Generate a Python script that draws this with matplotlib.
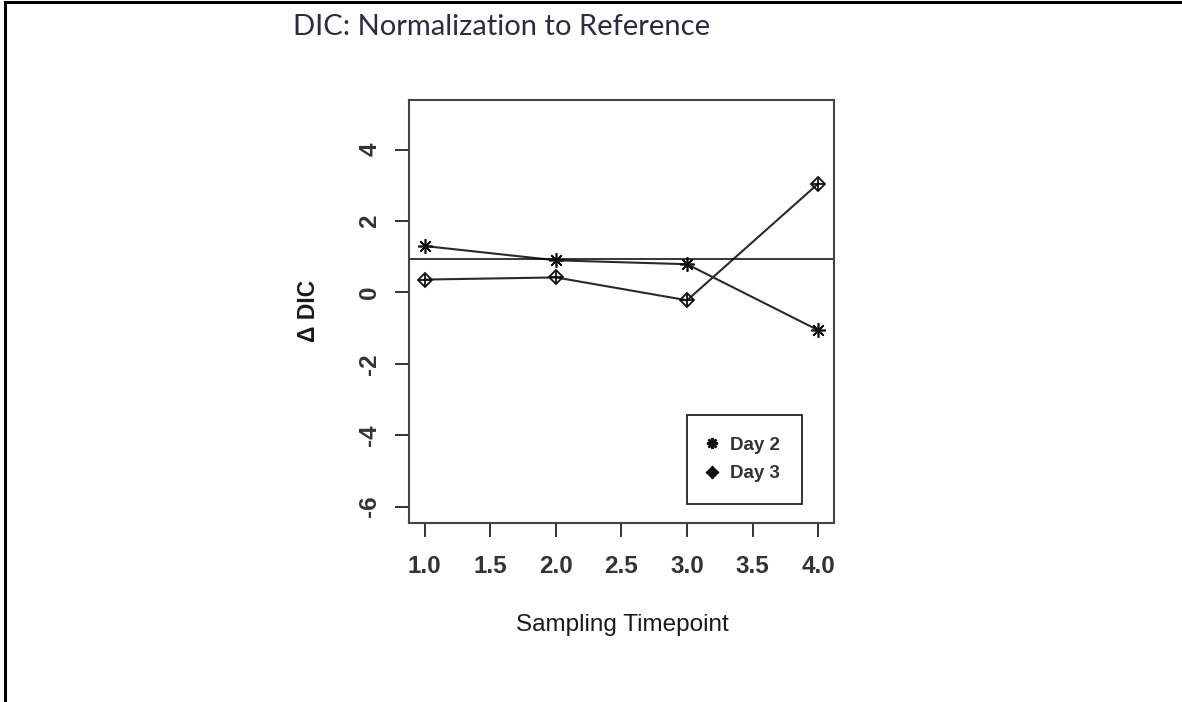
import matplotlib
matplotlib.use('Agg')
import matplotlib.pyplot as plt
from matplotlib.lines import Line2D
from matplotlib.legend_handler import HandlerTuple

timepoints = [1.0, 2.0, 3.0, 4.0]
day2 = [1.30, 0.90, 0.79, -1.06]
day3 = [0.36, 0.42, -0.22, 3.05]
ref_line = 0.95
xticks = [1.0, 1.5, 2.0, 2.5, 3.0, 3.5, 4.0]
yticks = [-6, -4, -2, 0, 2, 4]

plt.rcParams['font.family'] = ['Liberation Sans', 'DejaVu Sans']

fig = plt.figure(figsize=(11.82, 7.02), dpi=100)
ax = fig.add_axes([0.346, 0.255, 0.3596, 0.6025])

line_col = '#2a2a2a'
mk_col = '#111111'
# R pch 8 style asterisk
ax.plot(timepoints, day2, color=line_col, lw=1.5, marker=(8, 2, 0),
        markersize=10.5, markeredgewidth=1.2, markeredgecolor=mk_col)
# R pch 9: diamond with a plus inside
ax.plot(timepoints, day3, color=line_col, lw=1.5, marker='D', markersize=7.2,
        markerfacecolor='none', markeredgewidth=1.3, markeredgecolor=mk_col)
ax.plot(timepoints, day3, linestyle='none', marker='+', markersize=10.2,
        markeredgewidth=1.3, markeredgecolor=mk_col)
ax.axhline(ref_line, color='black', lw=1.1)

ax.set_xlim(0.88, 4.12)
ax.set_ylim(-6.46, 5.39)
ax.set_xticks(xticks)
ax.set_xticklabels(['%.1f' % t for t in xticks])
ax.set_yticks(yticks)
ax.set_yticklabels([str(t) for t in yticks])

for s in ax.spines.values():
    s.set_color('#444444')
    s.set_linewidth(1.5)

ax.tick_params(axis='both', direction='out', length=10, width=1.4, color='#333333',
               labelsize=17.5, labelcolor='#333333')
ax.tick_params(axis='x', pad=13)
ax.tick_params(axis='y', pad=10, labelrotation=90)
for lab in ax.get_xticklabels() + ax.get_yticklabels():
    lab.set_fontweight('bold')
for lab in ax.get_yticklabels():
    lab.set_va('center')

ax.set_xlabel('Sampling Timepoint', fontsize=17.5, color='#1a1a1a', va='center')
ax.set_ylabel('Δ DIC', fontsize=16.5, color='#1a1a1a', va='center', ha='center',
              fontweight='bold')
ax.xaxis.set_label_coords(0.501, -0.241)
ax.yaxis.set_label_coords(-0.236, 0.501)

h2 = Line2D([], [], linestyle='none', marker=(8, 2, 0), markersize=8,
            markeredgewidth=1.8, color=mk_col)
h3a = Line2D([], [], linestyle='none', marker='D', markersize=5.5,
             markerfacecolor='none', markeredgewidth=2.0, color=mk_col)
h3b = Line2D([], [], linestyle='none', marker='+', markersize=8,
             markeredgewidth=2.0, color=mk_col)
leg = ax.legend([h2, (h3a, h3b)], ['Day 2', 'Day 3'], loc='lower left',
                bbox_to_anchor=(0.654, 0.045), fancybox=False, framealpha=1,
                edgecolor='#222222', borderpad=1.15, handlelength=0.4,
                handletextpad=0.75, borderaxespad=0, labelspacing=0.6,
                handler_map={tuple: HandlerTuple(ndivide=1)},
                prop={'size': 13.5, 'weight': 'bold'})
leg.get_frame().set_linewidth(1.3)
for t in leg.get_texts():
    t.set_color('#333333')

fig.text(0.248, 0.950, 'DIC: Normalization to Reference', fontsize=21,
         family=['Lato', 'DejaVu Sans'], color='#2b2b45', va='baseline')

# page border on the left and top edges
fig.add_artist(Line2D([0.0045, 0.0045], [0, 0.997], color='black', lw=2.2,
                      transform=fig.transFigure))
fig.add_artist(Line2D([0.0045, 1.0], [0.997, 0.997], color='black', lw=2.2,
                      transform=fig.transFigure))

fig.savefig('out.png', dpi=100)
